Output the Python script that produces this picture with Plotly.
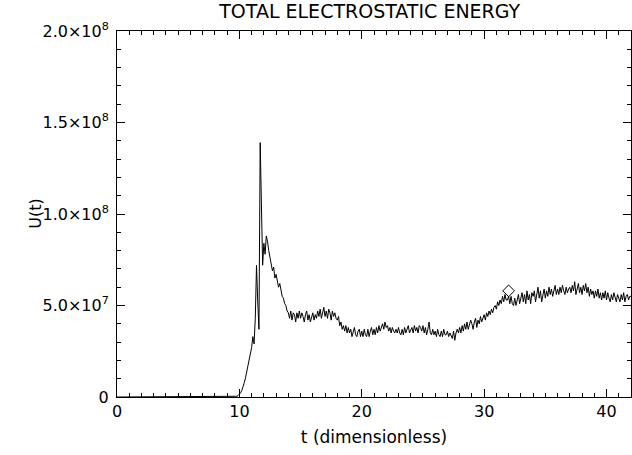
import plotly.graph_objects as go

# ---- data (U in units of 1e6) ----
t_early = [0.0, 3.0, 6.0, 9.0, 9.5]
u_early = [0.0, 0.0, 0.0, 0.0, 0.0]

t_start = 9.6
dt = 0.1
u_main = [
    # 9.6 - 9.9
    0.1, 0.2, 0.4, 0.8,
    # 10.0 - 10.9
    1.4, 2.3, 3.6, 5.4, 7.8, 10.5, 13.5, 17.0, 20.5, 23.5,
    # 11.0 - 11.9
    27, 33, 29, 43, 72, 52, 37, 139, 100, 72,
    # 12.0 - 12.9
    84, 78, 88, 85, 80, 76, 73, 69, 71, 65,
    # 13.0 - 13.9
    67, 62, 60, 62, 57, 55, 54, 51, 50, 47,
    # 14.0 - 14.9
    46, 43, 47, 42, 46, 45, 41, 46, 43, 47,
    # 15.0 - 15.9
    43, 46, 44, 41, 45, 47, 42, 45, 41, 44,
    # 16.0 - 16.9
    46, 42, 45, 43, 47, 44, 48, 43, 46, 49,
    # 17.0 - 17.9
    44, 47, 43, 48, 46, 42, 47, 44, 46, 43,
    # 18.0 - 18.9
    42, 44, 39, 41, 37, 39, 36, 39, 35, 38,
    # 19.0 - 19.9
    35, 37, 33, 36, 38, 34, 33, 36, 37, 33,
    # 20.0 - 20.9
    36, 33, 37, 34, 33, 37, 33, 36, 38, 34,
    # 21.0 - 21.9
    37, 34, 38, 35, 39, 36, 38, 40, 37, 41,
    # 22.0 - 22.9
    38, 39, 36, 38, 35, 38, 36, 35, 37, 35,
    # 23.0 - 23.9
    38, 35, 34, 37, 34, 38, 35, 37, 39, 35,
    # 24.0 - 24.9
    37, 38, 35, 39, 36, 38, 35, 39, 38, 36,
    # 25.0 - 25.9
    39, 35, 38, 34, 37, 41, 35, 34, 37, 34,
    # 26.0 - 26.9
    36, 33, 37, 34, 33, 36, 33, 37, 34, 34,
    # 27.0 - 27.9
    36, 33, 35, 33, 32, 36, 31, 35, 37, 35,
    # 28.0 - 28.9
    38, 35, 39, 36, 40, 37, 41, 37, 39, 42,
    # 29.0 - 29.9
    40, 37, 41, 43, 38, 42, 40, 44, 41, 43,
    # 30.0 - 30.9
    45, 42, 46, 44, 47, 45, 48, 46, 49, 50,
    # 31.0 - 31.9
    48, 52, 50, 53, 51, 55, 52, 56, 53, 53,
    # 32.0 - 32.9
    55, 51, 55, 51, 50, 54, 50, 53, 56, 51,
    # 33.0 - 33.9
    54, 57, 52, 56, 51, 58, 53, 56, 51, 57,
    # 34.0 - 34.9
    55, 58, 52, 57, 60, 54, 58, 52, 57, 59,
    # 35.0 - 35.9
    54, 58, 55, 60, 56, 59, 55, 58, 61, 56,
    # 36.0 - 36.9
    59, 56, 60, 57, 61, 58, 56, 60, 57, 59,
    # 37.0 - 37.9
    60, 57, 61, 58, 63, 56, 60, 62, 57, 60,
    # 38.0 - 38.9
    56, 61, 58, 62, 57, 60, 55, 59, 56, 58,
    # 39.0 - 39.9
    54, 58, 55, 59, 54, 57, 53, 57, 54, 58,
    # 40.0 - 40.9
    53, 57, 54, 52, 56, 53, 57, 54, 52, 56,
    # 41.0 - 42.0
    54, 52, 56, 53, 57, 52, 55, 56, 53, 55, 55,
]

marker_t = [32.0]
marker_u = [58.0]

x_tickvals = [0, 10, 20, 30, 40]
x_ticktext = ["0", "10", "20", "30", "40"]
y_tickvals = [0, 5e7, 1e8, 1.5e8, 2e8]
y_ticktext = ["0", "5.0×10<sup>7</sup>", "1.0×10<sup>8</sup>",
              "1.5×10<sup>8</sup>", "2.0×10<sup>8</sup>"]

UNIT = 1e6
t_main = [round(t_start + i * dt, 3) for i in range(len(u_main))]
t_all = t_early + t_main
u_all = [v * UNIT for v in u_early + u_main]

FONT = "DejaVu Sans ExtraLight, DejaVu Sans"

fig = go.Figure()
fig.add_trace(go.Scatter(x=t_all, y=u_all, mode="lines",
                         line=dict(color="black", width=1), showlegend=False))
fig.add_trace(go.Scatter(x=marker_t, y=[v * UNIT for v in marker_u], mode="markers",
                         marker=dict(symbol="diamond-open", size=9,
                                     color="black", line=dict(width=1, color="black")),
                         showlegend=False))

axis_common = dict(
    showline=True, linecolor="black", linewidth=1, mirror="allticks",
    ticks="inside", ticklen=8, tickwidth=1, tickcolor="black",
    showgrid=False, zeroline=False,
    tickfont=dict(family=FONT, size=16, color="black"),
)

fig.update_xaxes(range=[0, 42], tickvals=x_tickvals, ticktext=x_ticktext,
                 minor=dict(ticks="inside", dtick=1, ticklen=4, tickcolor="black"),
                 title=dict(text="t (dimensionless)", standoff=10,
                            font=dict(family=FONT, size=17, color="black")),
                 **axis_common)
fig.update_yaxes(range=[0, 2e8], tickvals=y_tickvals, ticktext=y_ticktext,
                 ticklabelstandoff=4,
                 minor=dict(ticks="inside", dtick=1e7, ticklen=4, tickcolor="black"),
                 **axis_common)

fig.add_annotation(text="U(t)", xref="paper", yref="paper", x=-0.16, y=0.5,
                   xanchor="center", yanchor="middle", textangle=-90, showarrow=False,
                   font=dict(family=FONT, size=16, color="black"))

fig.update_layout(
    width=632, height=455,
    margin=dict(l=117, r=1, t=31, b=58),
    paper_bgcolor="white", plot_bgcolor="white",
    title=dict(text="TOTAL ELECTROSTATIC ENERGY", x=0.585, xanchor="center",
               y=0.975, yanchor="middle",
               font=dict(family=FONT, size=19, color="black")),
)

fig.write_html("out.html", config={"displayModeBar": False},
               post_script="document.body.style.margin='0';document.body.style.padding='0';")
